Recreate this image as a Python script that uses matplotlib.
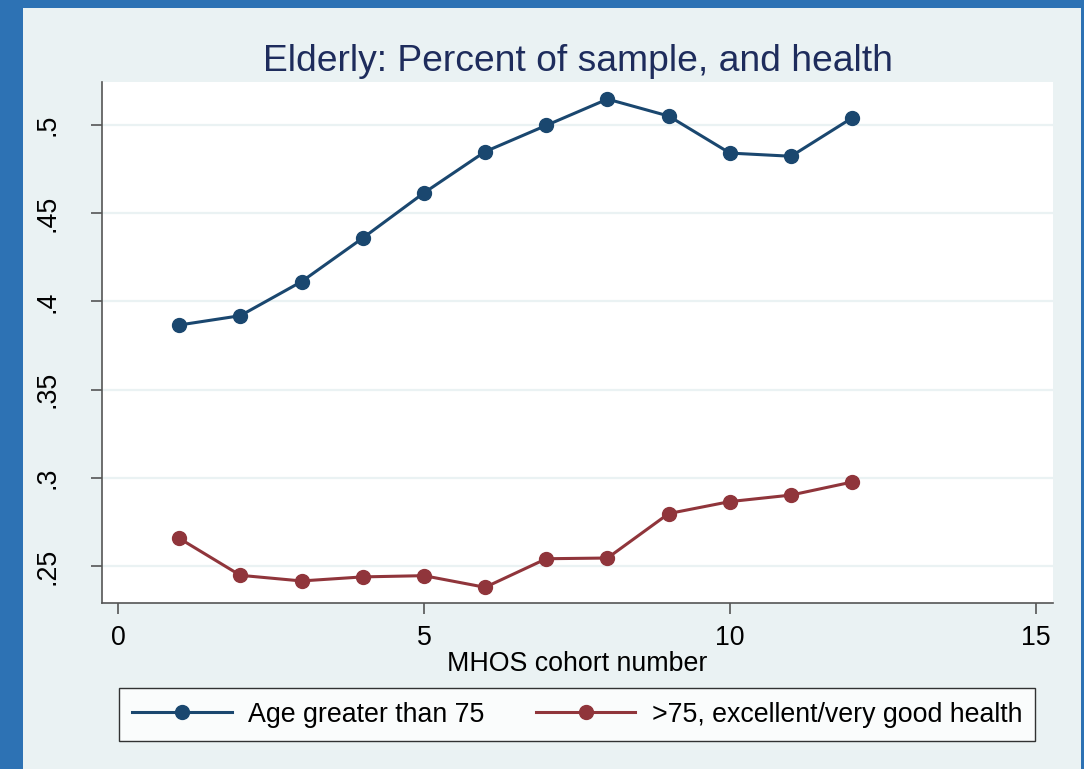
import matplotlib
matplotlib.use("agg")
import matplotlib.pyplot as plt
from matplotlib.patches import Rectangle

# Data
cohort = [1, 2, 3, 4, 5, 6, 7, 8, 9, 10, 11, 12]
age_over_75 = [0.3866, 0.3919, 0.4112, 0.4359, 0.4615, 0.4849,
               0.4998, 0.5147, 0.5051, 0.4841, 0.4823, 0.5041]
over_75_good_health = [0.2657, 0.2447, 0.2415, 0.2438, 0.2445, 0.2379,
                       0.2541, 0.2545, 0.2797, 0.2865, 0.2902, 0.2976]
xticks = [0, 5, 10, 15]
yticks = [0.25, 0.30, 0.35, 0.40, 0.45, 0.50]
ytick_labels = [".25", ".3", ".35", ".4", ".45", ".5"]

navy = "#1A476F"
maroon = "#90353B"
outer = "#2D72B4"
inner = "#EAF2F3"
tone = "#555555"
fs = 19.3

plt.rcParams["font.family"] = ["Liberation Sans", "DejaVu Sans"]

fig = plt.figure(figsize=(10.84, 7.69), dpi=100)
fig.patch.set_facecolor(outer)
fig.patches.append(Rectangle((23 / 1084, 0), (1081 - 23) / 1084, 1 - 8 / 769,
                             transform=fig.transFigure, facecolor=inner,
                             edgecolor="none", zorder=-10))

ax = fig.add_axes([102 / 1084, 1 - 603 / 769, (1053 - 102) / 1084, (603 - 82) / 769])
ax.set_facecolor("white")

ax.plot(cohort, age_over_75, color=navy, lw=2.2, marker="o", ms=10,
        label="Age greater than 75", zorder=3)
ax.plot(cohort, over_75_good_health, color=maroon, lw=2.2, marker="o", ms=10,
        label=">75, excellent/very good health", zorder=3)

ax.set_xlim(-0.26, 15.28)
ax.set_ylim(0.2290, 0.5244)
ax.set_xticks(xticks)
ax.set_xticklabels([str(t) for t in xticks])
ax.set_yticks(yticks)
ax.set_yticklabels(ytick_labels, rotation=90, va="center")

ax.grid(True, axis="y", color=inner, lw=1.6, zorder=0)
[ax.spines[s].set_visible(False) for s in ["top", "right"]]
[ax.spines[s].set_color(tone) for s in ["bottom", "left"]]
[ax.spines[s].set_linewidth(1.2) for s in ["bottom", "left"]]
ax.tick_params(axis="x", length=8, width=1.2, color=tone, labelsize=fs, pad=8)
ax.tick_params(axis="y", length=8, width=1.2, color=tone, labelsize=fs, pad=22)

ax.set_xlabel("MHOS cohort number", fontsize=fs, labelpad=0)
ax.set_title("Elderly: Percent of sample, and health", fontsize=26.8,
             color="#1E2C5C", pad=8)

lgd = fig.legend(loc="lower left", bbox_to_anchor=(119 / 1084, 1 - 741 / 769),
                 ncol=2, fontsize=fs, frameon=True, fancybox=False,
                 handlelength=3.7, handletextpad=0.6, borderpad=0.5,
                 borderaxespad=0, columnspacing=1.95)
lgd.get_frame().set_edgecolor("black")
lgd.get_frame().set_linewidth(1.0)

fig.savefig("out.png", dpi=100, facecolor=fig.get_facecolor())
